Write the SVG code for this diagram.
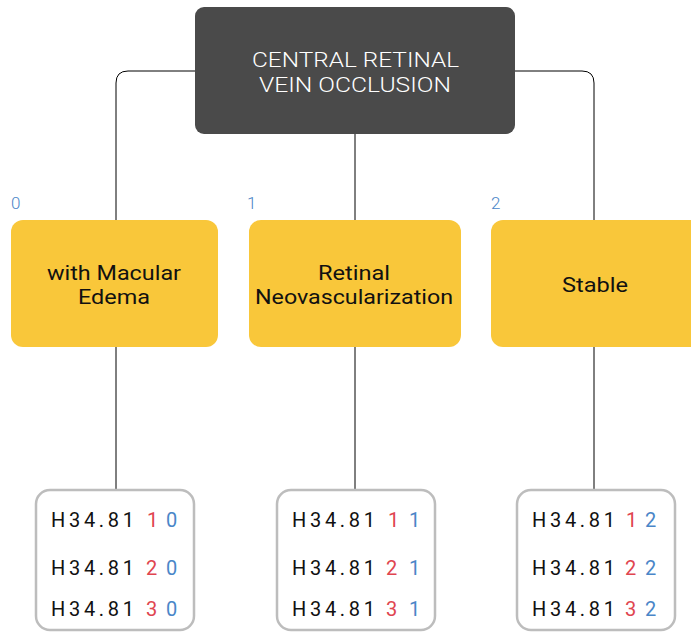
<svg xmlns="http://www.w3.org/2000/svg" width="691" height="632" viewBox="0 0 691 632">
<style>
.conn{fill:none;stroke:#000;stroke-width:1}
.root{fill:#4a4a4a}
.cat{fill:#f9c73a}
.codebox{fill:#fff;stroke:#bdbdbd;stroke-width:2.5}
.t{font-family:Roboto,"Liberation Sans",sans-serif}
.rt{fill:#fff;font-size:20px;font-weight:300}
.ct{fill:#111;font-size:20px}
.idx{fill:#4a86c8;font-size:17px;font-weight:300}
.code{fill:#111;font-size:20px;letter-spacing:3.7px}
.r{fill:#e0454f}
.b{fill:#4a86c8}
</style>
<rect width="691" height="632" fill="#fff"/>
<g id="connectors">
<path class="conn" d="M195,71 H128 Q116,71 116,83 V490"/>
<path class="conn" d="M355,134 V490"/>
<path class="conn" d="M515,71 H582 Q594,71 594,83 V490"/>
</g>
<g id="root">
<rect class="root" x="195" y="7" width="320" height="127" rx="9"/>
<text class="t rt" x="252" y="67" textLength="207" lengthAdjust="spacingAndGlyphs">CENTRAL RETINAL</text>
<text class="t rt" x="259" y="92" textLength="192" lengthAdjust="spacingAndGlyphs">VEIN OCCLUSION</text>
</g>
<g id="cat0">
<text class="t idx" x="11" y="209">0</text>
<rect class="cat" x="11" y="220" width="207" height="127" rx="12"/>
<text class="t ct" x="47" y="280" textLength="134" lengthAdjust="spacingAndGlyphs">with Macular</text>
<text class="t ct" x="78" y="304" textLength="72" lengthAdjust="spacingAndGlyphs">Edema</text>
</g>
<g id="cat1">
<text class="t idx" x="247" y="209">1</text>
<rect class="cat" x="249" y="220" width="212" height="127" rx="12"/>
<text class="t ct" x="318" y="280" textLength="72" lengthAdjust="spacingAndGlyphs">Retinal</text>
<text class="t ct" x="255" y="304" textLength="198" lengthAdjust="spacingAndGlyphs">Neovascularization</text>
</g>
<g id="cat2">
<text class="t idx" x="491" y="209">2</text>
<rect class="cat" x="491" y="220" width="212" height="127" rx="12"/>
<text class="t ct" x="562" y="292" textLength="66" lengthAdjust="spacingAndGlyphs">Stable</text>
</g>
<g id="codes0">
<rect class="codebox" x="36" y="490" width="158" height="140" rx="14"/>
<text class="t code" x="51" y="527">H34.81<tspan class="r" x="147">1</tspan><tspan class="b" x="166">0</tspan></text>
<text class="t code" x="51" y="575">H34.81<tspan class="r" x="146">2</tspan><tspan class="b" x="166">0</tspan></text>
<text class="t code" x="51" y="616">H34.81<tspan class="r" x="146">3</tspan><tspan class="b" x="166">0</tspan></text>
</g>
<g id="codes1">
<rect class="codebox" x="277" y="490" width="158" height="140" rx="14"/>
<text class="t code" x="292" y="527">H34.81<tspan class="r" x="388">1</tspan><tspan class="b" x="409">1</tspan></text>
<text class="t code" x="292" y="575">H34.81<tspan class="r" x="386">2</tspan><tspan class="b" x="409">1</tspan></text>
<text class="t code" x="292" y="616">H34.81<tspan class="r" x="386">3</tspan><tspan class="b" x="409">1</tspan></text>
</g>
<g id="codes2">
<rect class="codebox" x="517" y="490" width="158" height="140" rx="14"/>
<text class="t code" x="532" y="527">H34.81<tspan class="r" x="626">1</tspan><tspan class="b" x="645">2</tspan></text>
<text class="t code" x="532" y="575">H34.81<tspan class="r" x="625">2</tspan><tspan class="b" x="645">2</tspan></text>
<text class="t code" x="532" y="616">H34.81<tspan class="r" x="625">3</tspan><tspan class="b" x="645">2</tspan></text>
</g>
</svg>
